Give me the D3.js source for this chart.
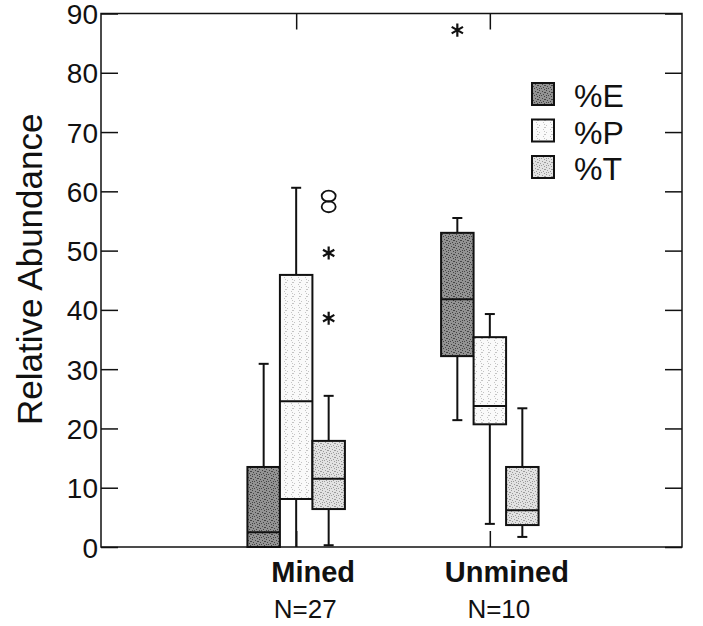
<!DOCTYPE html>
<html>
<head>
<meta charset="utf-8">
<script src="https://cdn.jsdelivr.net/npm/d3@7"></script>
<style>
  body { margin: 0; background: #fff; }
  text { font-family: "Liberation Sans", Arial, sans-serif; fill: #111; }
</style>
</head>
<body>
<svg width="703" height="626"></svg>
<script>
// data
var groups = ['Mined', 'Unmined'];
var groupN = ['N=27', 'N=10'];
var series = ['%E', '%P', '%T'];
var seriesFill = ['#939393', '#fafafa', '#e2e2e2'];
var seriesDots = ['#444444', '#c4c4c4', '#9a9a9a'];
var yTicks = [0, 10, 20, 30, 40, 50, 60, 70, 80, 90];

// five number summaries: [low whisker, q1, median, q3, high whisker]
var minedE = [0, 0, 2.5, 13.5, 30.9];
var minedP = [0, 8.1, 24.6, 45.9, 60.6];
var minedT = [0.3, 6.4, 11.5, 17.9, 25.5];
var unminedE = [21.4, 32.2, 41.8, 53.0, 55.5];
var unminedP = [3.9, 20.7, 23.8, 35.4, 39.3];
var unminedT = [1.7, 3.7, 6.2, 13.5, 23.4];

// outliers: asterisks and circles
var minedTStars = [49.6, 38.6];
var minedTCircles = [59.2, 57.4];
var unminedEStars = [87.2];

var boxes = [
    {g: 0, s: 0, v: minedE, stars: [], circles: []},
    {g: 0, s: 1, v: minedP, stars: [], circles: []},
    {g: 0, s: 2, v: minedT, stars: minedTStars, circles: minedTCircles},
    {g: 1, s: 0, v: unminedE, stars: unminedEStars, circles: []},
    {g: 1, s: 1, v: unminedP, stars: [], circles: []},
    {g: 1, s: 2, v: unminedT, stars: [], circles: []}
];

var svg = d3.select('svg');
// note: "top" is a reserved window property, so use plot* names
var plotLeft = 101, plotRight = 682, plotTop = 13.5, plotBottom = 547;

var x = d3.scaleLinear().domain([0, 3]).range([plotLeft + 1.5, plotRight + 1.5]);
var xIn = d3.scaleBand().domain(series).range([-48.75, 48.75]);
var y = d3.scaleLinear().domain([0, 90]).range([plotBottom, plotTop]);

// stipple textures for the box fills (fixed scattered dots in a 7x7 tile)
var stippleDots = [[0, 0], [3, 1], [6, 2], [1, 3], [4, 4], [2, 5], [5, 6], [0, 5], [5, 2]];
var defs = svg.append('defs');
series.forEach(function(name, i) {
    var p = defs.append('pattern')
        .attr('id', 'stip' + i)
        .attr('patternUnits', 'userSpaceOnUse')
        .attr('width', 7).attr('height', 7);
    p.append('rect').attr('width', 7).attr('height', 7).attr('fill', seriesFill[i]);
    stippleDots.forEach(function(d, k) {
        if (i === 1 && k % 2) return;
        p.append('rect').attr('x', d[0]).attr('y', d[1])
            .attr('width', 1).attr('height', 1).attr('fill', seriesDots[i]);
    });
});

// axes, ticks pointing inward
var yLeft = d3.axisLeft(y).tickValues(yTicks).tickSizeInner(-17).tickSizeOuter(0).tickPadding(3);
var yRight = d3.axisRight(y).tickValues(yTicks).tickSizeInner(-17).tickSizeOuter(0).tickFormat('');
var xTop = d3.axisTop(x).tickValues([1, 2]).tickSizeInner(-16).tickSizeOuter(0).tickFormat('');
var xBottom = d3.axisBottom(x).tickValues([1, 2]).tickSizeInner(-16).tickSizeOuter(0).tickFormat('');

var gl = svg.append('g').attr('transform', 'translate(' + plotLeft + ',0)').call(yLeft);
gl.selectAll('text').style('font-size', '28px').attr('dy', '0.36em');
svg.append('g').attr('transform', 'translate(' + plotRight + ',0)').call(yRight);
svg.append('g').attr('transform', 'translate(0,' + plotTop + ')').call(xTop);
svg.append('g').attr('transform', 'translate(0,' + plotBottom + ')').call(xBottom);

svg.selectAll('.domain').remove();
svg.selectAll('.tick line').attr('stroke', '#111').attr('stroke-width', 1.5);

// frame
svg.append('rect')
    .attr('x', plotLeft).attr('y', plotTop)
    .attr('width', plotRight - plotLeft).attr('height', plotBottom - plotTop)
    .attr('fill', 'none').attr('stroke', '#111').attr('stroke-width', 1.5);

// boxes
var bw = xIn.bandwidth();
var bg = svg.append('g').attr('class', 'boxes');
boxes.forEach(function(b) {
    var cx = x(b.g + 1) + xIn(series[b.s]) + bw / 2;
    var g = bg.append('g');
    // whiskers
    g.append('line').attr('x1', cx).attr('x2', cx)
        .attr('y1', y(b.v[3])).attr('y2', y(b.v[4]))
        .attr('stroke', '#111').attr('stroke-width', 2);
    g.append('line').attr('x1', cx).attr('x2', cx)
        .attr('y1', y(b.v[1])).attr('y2', y(b.v[0]))
        .attr('stroke', '#111').attr('stroke-width', 2);
    [b.v[0], b.v[4]].forEach(function(w) {
        if (w > 0) {
            g.append('line').attr('x1', cx - 5).attr('x2', cx + 5)
                .attr('y1', y(w)).attr('y2', y(w))
                .attr('stroke', '#111').attr('stroke-width', 2);
        }
    });
    g.append('rect')
        .attr('x', cx - bw / 2).attr('width', bw)
        .attr('y', y(b.v[3])).attr('height', y(b.v[1]) - y(b.v[3]))
        .attr('fill', 'url(#stip' + b.s + ')').attr('stroke', '#111').attr('stroke-width', 2);
    g.append('line').attr('x1', cx - bw / 2).attr('x2', cx + bw / 2)
        .attr('y1', y(b.v[2])).attr('y2', y(b.v[2]))
        .attr('stroke', '#111').attr('stroke-width', 2);
    // outliers
    b.stars.forEach(function(v) {
        g.append('path')
            .attr('transform', 'translate(' + cx + ',' + y(v) + ')')
            .attr('d', d3.symbol(d3.symbolAsterisk, 120)())
            .attr('fill', 'none').attr('stroke', '#111').attr('stroke-width', 2.2);
    });
    b.circles.forEach(function(v) {
        g.append('ellipse')
            .attr('cx', cx).attr('cy', y(v))
            .attr('rx', 7).attr('ry', 5.5)
            .attr('fill', 'none').attr('stroke', '#111').attr('stroke-width', 1.8);
    });
});

// category labels
groups.forEach(function(name, i) {
    svg.append('text')
        .attr('x', x(i + 1) + 17).attr('y', 582)
        .attr('text-anchor', 'middle')
        .style('font-size', '29px').style('font-weight', 'bold')
        .text(name);
    svg.append('text')
        .attr('x', x(i + 1) + 9).attr('y', 618)
        .attr('text-anchor', 'middle')
        .style('font-size', '26px')
        .text(groupN[i]);
});

// y title
svg.append('text')
    .attr('transform', 'translate(42,' + ((plotTop + plotBottom) / 2 - 11) + ') rotate(-90)')
    .attr('text-anchor', 'middle')
    .style('font-size', '35px')
    .text('Relative Abundance');

// legend
var legend = svg.append('g').attr('transform', 'translate(532,83)');
series.forEach(function(name, i) {
    legend.append('rect')
        .attr('x', 0).attr('y', i * 36.5)
        .attr('width', 22).attr('height', 22)
        .attr('fill', 'url(#stip' + i + ')').attr('stroke', '#111').attr('stroke-width', 2);
    legend.append('text')
        .attr('x', 42).attr('y', i * 36.5 + 24)
        .style('font-size', '32px')
        .text(name);
});
</script>
</body>
</html>
